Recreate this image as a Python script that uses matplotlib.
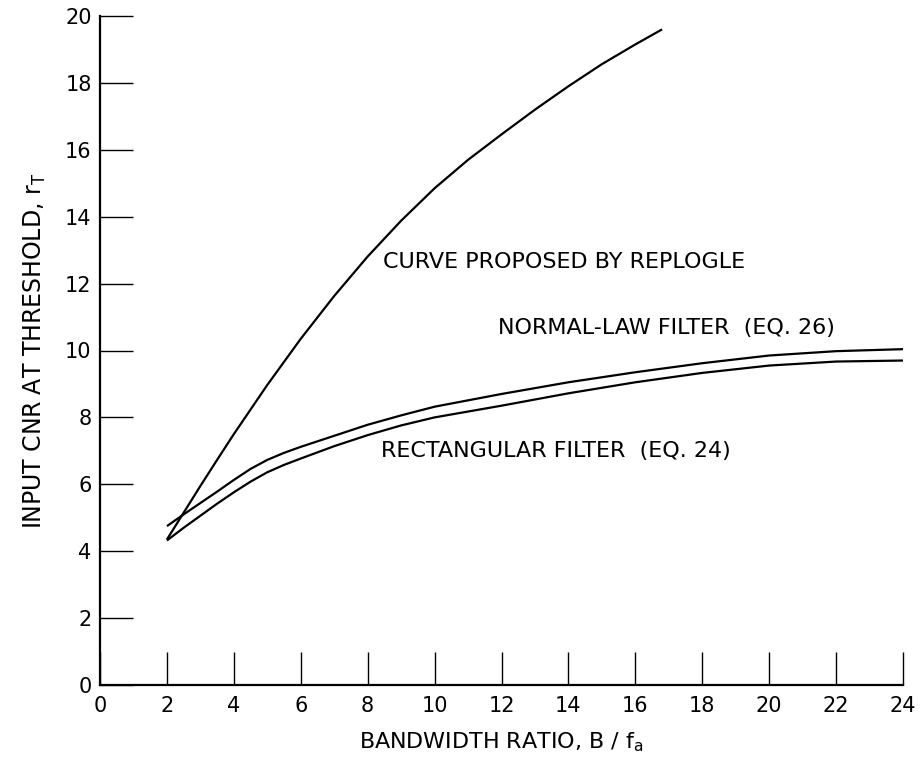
import matplotlib
matplotlib.use("Agg")
import matplotlib.pyplot as plt

# values
replogle_x = [2.0, 2.5, 3.0, 3.5, 4.0, 5.0, 6.0, 7.0, 8.0, 9.0, 10.0, 11.0, 12.0, 13.0, 14.0, 15.0, 16.0, 16.8]
replogle_y = [4.35, 5.15, 5.95, 6.73, 7.5, 8.97, 10.35, 11.63, 12.81, 13.88, 14.85, 15.7, 16.46, 17.2, 17.9, 18.56, 19.15, 19.6]

normal_x = [2.0, 2.5, 3.0, 3.5, 4.0, 4.5, 5.0, 5.5, 6.0, 7.0, 8.0, 9.0, 10.0, 12.0, 14.0, 16.0, 18.0, 20.0, 22.0, 24.0]
normal_y = [4.75, 5.1, 5.44, 5.78, 6.13, 6.46, 6.73, 6.94, 7.12, 7.45, 7.78, 8.06, 8.32, 8.7, 9.05, 9.35, 9.62, 9.85, 9.98, 10.04]

rect_x = [2.0, 2.5, 3.0, 3.5, 4.0, 4.5, 5.0, 5.5, 6.0, 7.0, 8.0, 9.0, 10.0, 12.0, 14.0, 16.0, 18.0, 20.0, 22.0, 24.0]
rect_y = [4.32, 4.7, 5.06, 5.42, 5.76, 6.08, 6.36, 6.58, 6.77, 7.14, 7.47, 7.76, 8.0, 8.35, 8.72, 9.05, 9.33, 9.55, 9.67, 9.7]

x_ticks = list(range(0, 25, 2))
y_ticks = list(range(0, 21, 2))

plt.rcParams['font.family'] = ['DejaVu Sans']

fig = plt.figure(figsize=(9.21, 7.57), dpi=100)
ax = fig.add_axes([100 / 921, 72 / 757, 803 / 921, 669 / 757])

lw = 1.6
for xs, ys in [(replogle_x, replogle_y), (normal_x, normal_y), (rect_x, rect_y)]:
    ax.plot(xs, ys, color='black', lw=lw, solid_capstyle='butt', solid_joinstyle='round')

ax.set_xlim(0, 24)
ax.set_ylim(0, 20)
ax.set_xticks(x_ticks)
ax.set_yticks(y_ticks)
ax.set_xticklabels([str(v) for v in x_ticks], fontsize=15)
ax.set_yticklabels([str(v) for v in y_ticks], fontsize=15)
ax.tick_params(direction='in', length=24, width=1.0, color='black')
ax.tick_params(axis='x', pad=8)
ax.tick_params(axis='y', pad=6)

for side in ['top', 'right']:
    ax.spines[side].set_visible(False)
for side in ['left', 'bottom']:
    ax.spines[side].set_linewidth(1.6)

ax.set_xlabel(r'BANDWIDTH RATIO, B / f$_\mathregular{a}$', fontsize=16, labelpad=10)
ax.set_ylabel(r'INPUT CNR AT THRESHOLD, r$_\mathregular{T}$', fontsize=17, labelpad=12)

ax.text(8.45, 12.65, 'CURVE PROPOSED BY REPLOGLE', fontsize=16, va='center', ha='left')
ax.text(11.9, 10.67, 'NORMAL-LAW FILTER  (EQ. 26)', fontsize=16, va='center', ha='left')
ax.text(8.4, 7.0, 'RECTANGULAR FILTER  (EQ. 24)', fontsize=16, va='center', ha='left')

fig.savefig('out.png', dpi=100)
